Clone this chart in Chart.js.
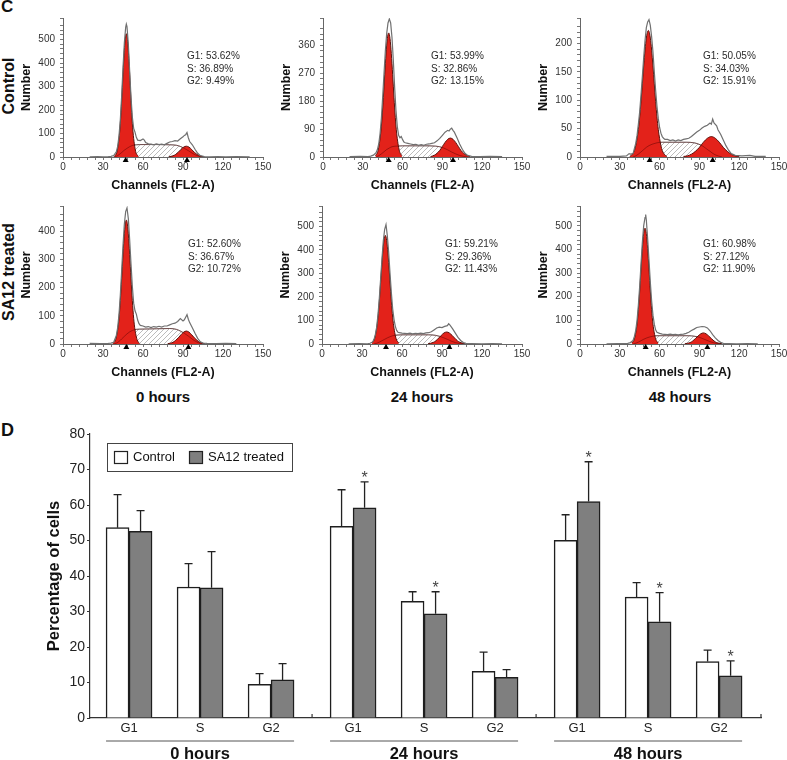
<!DOCTYPE html>
<html>
<head>
<meta charset="utf-8">
<script src="https://cdn.jsdelivr.net/npm/chart.js@4.4.1/dist/chart.umd.min.js"></script>
<style>
  body { margin: 0; width: 787px; height: 760px; position: relative; overflow: hidden; background: #fff;
         font-family: "Liberation Sans", Arial, sans-serif; color: #111; }
  canvas { position: absolute; }
  .lbl { position: absolute; font-weight: bold; white-space: nowrap; text-align: center; }
  .rot { transform: rotate(-90deg); }
</style>
</head>
<body>
<div class="lbl" style="left:1px;top:-2px;font-size:17px;line-height:17px;text-align:left">C</div>
<div class="lbl rot" style="left:-61px;top:76px;width:140px;height:20px;font-size:16px;line-height:20px">Control</div>
<div class="lbl rot" style="left:-61px;top:262px;width:140px;height:20px;font-size:16px;line-height:20px">SA12 treated</div>
<div class="lbl" style="left:103px;top:387px;width:120px;font-size:15px;line-height:20px">0 hours</div>
<div class="lbl" style="left:362px;top:387px;width:120px;font-size:15px;line-height:20px">24 hours</div>
<div class="lbl" style="left:620px;top:387px;width:120px;font-size:15px;line-height:20px">48 hours</div>
<div class="lbl" style="left:1px;top:421px;font-size:18px;line-height:18px;text-align:left">D</div>

<script>
Chart.defaults.font.family = '"Liberation Sans", Arial, sans-serif';
Chart.defaults.color = '#222';

// ---- C: DNA histograms, [channel, count] ----
const ctrl0Raw = [[20,1],[26,2],[30,1],[34,2],[36,3],[38,6],[40,22],[41,45],[42,90],[43,160],[44,260],[45,380],[46,485],[47,552],[47.5,566],[48,555],[49,480],[50,365],[51,255],[52,170],[53,122],[54,106],[55,84],[56,72],[58,70],[60,77],[61,72],[62,62],[64,56],[66,55],[68,52],[70,56],[72,53],[74,55],[76,52],[78,58],[80,64],[82,66],[84,70],[86,68],[88,78],[90,86],[91,92],[92,95],[93,104],[94,82],[95,66],[97,52],[99,33],[101,16],[103,6],[106,2],[110,1],[116,2],[122,1],[130,2],[140,1]];
const ctrl0G1 = [[38.5,3],[40.5,23],[42.5,107],[43.5,189],[44.5,296],[45.5,407],[46.5,493],[47.5,525],[48.5,493],[49.5,407],[50.5,296],[51.5,189],[52.5,107],[54.5,23],[56.5,3]];
const ctrl0G2 = [[79.5,1],[82.5,5],[84.5,11],[86.5,20],[88.5,32],[90.5,42],[92.5,46],[94.5,42],[96.5,32],[98.5,20],[100.5,11],[102.5,5],[105.5,1]];
const ctrl0S = [[38,0],[40,3],[42,10],[44,19],[46,29],[48,37],[50,44],[52,49],[55,52],[60,53],[70,53],[80,52],[85,50],[88,45],[91,37],[94,27],[97,16],[100,7],[103,2],[106,0]];
const ctrl0Marks = [47, 93];
const ctrl0Stats = ['G1: 53.62%', 'S: 36.89%', 'G2: 9.49%'];

const ctrl24Raw = [[20,1],[28,2],[34,1],[36,3],[38,6],[40,14],[41,24],[42,42],[43,75],[44,125],[45,195],[46,270],[47,342],[48,398],[49,432],[50,445],[51,432],[52,385],[53,312],[54,225],[55,150],[56,98],[57,70],[58,62],[59,66],[60,56],[61,48],[62,46],[64,44],[66,42],[68,40],[70,41],[72,38],[74,40],[76,38],[78,41],[80,42],[82,44],[84,46],[86,52],[88,60],[90,70],[92,80],[94,86],[95,84],[96,90],[97,93],[98,86],[99,80],[101,62],[103,42],[105,25],[107,12],[109,5],[112,2],[118,1],[126,2],[135,1]];
const ctrl24G1 = [[39.5,4],[41.5,21],[43.5,77],[44.5,127],[45.5,192],[46.5,265],[47.5,333],[48.5,382],[49.5,400],[50.5,382],[51.5,333],[52.5,265],[53.5,192],[54.5,127],[55.5,77],[57.5,21],[59.5,4]];
const ctrl24G2 = [[81,1],[84,6],[86,12],[88,21],[90,34],[92,47],[94,57],[96,61],[98,57],[100,47],[102,34],[104,21],[106,12],[108,6],[111,1]];
const ctrl24S = [[40,0],[42,4],[44,10],[46,17],[48,24],[50,29],[52,33],[55,35],[60,36],[70,36],[80,36],[85,35],[88,33],[91,29],[94,23],[97,16],[100,10],[103,5],[106,2],[109,0]];
const ctrl24Marks = [49.5, 98];
const ctrl24Stats = ['G1: 53.99%', 'S: 32.86%', 'G2: 13.15%'];

const ctrl48Raw = [[20,1],[30,1],[35,2],[37,6],[38,5],[40,6],[42,24],[43,38],[44,58],[45,80],[46,110],[47,142],[48,175],[49,205],[50,228],[51,238],[52,242],[53,232],[54,212],[55,185],[56,150],[57,118],[58,90],[59,68],[60,52],[61,42],[62,36],[63,33],[64,31],[66,31],[68,29],[70,30],[72,28],[74,30],[76,29],[78,31],[80,32],[82,33],[84,36],[86,40],[88,44],[90,47],[92,51],[94,54],[96,56],[98,60],[99,58],[100,67],[101,60],[103,55],[104,48],[106,40],[108,30],[110,20],[112,12],[114,6],[117,3],[122,2],[128,3],[132,1],[140,1]];
const ctrl48G1 = [[37.5,1],[39.5,5],[41.5,15],[43.5,40],[44.5,59],[45.5,84],[46.5,113],[47.5,145],[48.5,175],[49.5,200],[50.5,217],[51.5,223],[52.5,217],[53.5,200],[54.5,175],[55.5,145],[56.5,113],[57.5,84],[58.5,59],[59.5,40],[61.5,15],[63.5,5],[65.5,1]];
const ctrl48G2 = [[78,1],[81,2],[84,5],[87,10],[90,17],[93,26],[96,33],[99,36],[102,33],[105,26],[108,17],[111,10],[114,5],[117,2],[120,1]];
const ctrl48S = [[40,0],[42,2],[44,5],[46,9],[48,13],[50,17],[52,20],[55,23],[58,25],[62,26],[70,26],[80,26],[86,25],[89,23],[92,20],[95,15],[98,10],[101,5],[104,2],[107,0]];
const ctrl48Marks = [52.5, 100];
const ctrl48Stats = ['G1: 50.05%', 'S: 34.03%', 'G2: 15.91%'];

const sa0Raw = [[20,2],[28,1],[34,2],[36,3],[38,6],[40,30],[41,58],[42,105],[43,175],[44,260],[45,350],[46,425],[47,470],[48,483],[49,445],[50,370],[51,285],[52,205],[53,145],[54,118],[55,106],[56,85],[57,72],[58,66],[60,64],[62,60],[64,62],[66,58],[68,62],[70,60],[72,63],[74,60],[76,64],[78,64],[80,68],[82,72],[84,74],[86,80],[88,90],[90,82],[91,86],[92,95],[93,104],[94,88],[95,76],[97,58],[99,38],[101,20],[103,8],[105,3],[108,2],[115,1],[122,2],[130,1]];
const sa0G1 = [[37.5,2],[39.5,16],[41.5,68],[42.5,120],[43.5,192],[44.5,276],[45.5,357],[46.5,418],[47.5,440],[48.5,418],[49.5,357],[50.5,276],[51.5,192],[52.5,120],[53.5,68],[55.5,16],[57.5,2]];
const sa0G2 = [[78.5,1],[80.5,3],[82.5,6],[84.5,13],[86.5,22],[88.5,33],[90.5,42],[92.5,46],[94.5,42],[96.5,33],[98.5,22],[100.5,13],[102.5,6],[104.5,3],[106.5,1]];
const sa0S = [[38,0],[40,3],[42,9],[44,18],[46,27],[48,36],[50,43],[52,48],[55,52],[60,53],[70,54],[80,55],[85,52],[88,46],[91,38],[94,28],[97,17],[100,8],[103,2],[106,0]];
const sa0Marks = [47.5, 94];
const sa0Stats = ['G1: 52.60%', 'S: 36.67%', 'G2: 10.72%'];

const sa24Raw = [[20,1],[28,2],[34,1],[36,3],[38,8],[39,20],[40,40],[41,72],[42,125],[43,195],[44,280],[45,365],[46,440],[47,488],[48,508],[49,460],[50,390],[51,302],[52,220],[53,150],[54,105],[55,75],[56,58],[57,50],[58,48],[60,46],[62,45],[64,44],[66,46],[68,43],[70,45],[72,44],[74,46],[76,44],[78,47],[80,48],[82,52],[84,60],[86,68],[88,72],[90,70],[92,75],[94,78],[95,86],[96,80],[98,64],[100,46],[102,28],[104,15],[106,6],[108,3],[112,2],[120,1],[128,2],[135,1]];
const sa24G1 = [[37.5,5],[39.5,24],[41.5,88],[42.5,146],[43.5,222],[44.5,306],[45.5,384],[46.5,441],[47.5,462],[48.5,441],[49.5,384],[50.5,306],[51.5,222],[52.5,146],[53.5,88],[55.5,24],[57.5,5]];
const sa24G2 = [[79.5,1],[81.5,3],[83.5,7],[85.5,14],[87.5,25],[89.5,37],[91.5,47],[93.5,51],[95.5,47],[97.5,37],[99.5,25],[101.5,14],[103.5,7],[105.5,3],[107.5,1]];
const sa24S = [[39,0],[41,3],[43,8],[45,14],[47,20],[49,26],[51,31],[53,35],[56,38],[60,39],[70,39],[80,39],[85,37],[88,33],[91,27],[94,20],[97,12],[100,6],[103,2],[106,0]];
const sa24Marks = [48, 95.5];
const sa24Stats = ['G1: 59.21%', 'S: 29.36%', 'G2: 11.43%'];

const sa48Raw = [[20,1],[28,2],[34,2],[36,3],[38,6],[40,15],[41,32],[42,58],[43,100],[44,165],[45,245],[46,340],[47,430],[48,500],[49,535],[49.5,548],[50,525],[51,445],[52,355],[53,262],[54,182],[55,122],[56,84],[57,60],[58,50],[60,45],[62,42],[64,41],[66,40],[68,42],[70,40],[72,41],[74,39],[76,41],[78,42],[80,45],[82,50],[84,57],[86,63],[88,70],[90,72],[92,74],[94,73],[96,68],[98,56],[100,40],[102,26],[104,15],[106,7],[108,3],[112,2],[118,1],[126,2],[134,1]];
const sa48G1 = [[39,4],[41,22],[43,84],[44,145],[45,224],[46,316],[47,403],[48,467],[49,490],[50,467],[51,403],[52,316],[53,224],[54,145],[55,84],[57,22],[59,4]];
const sa48G2 = [[79,1],[81,3],[83,6],[85,13],[87,23],[89,34],[91,43],[93,47],[95,43],[97,34],[99,23],[101,13],[103,6],[105,3],[107,1]];
const sa48S = [[40,0],[42,3],[44,8],[46,14],[48,20],[50,25],[52,29],[55,33],[58,35],[65,35],[75,35],[82,35],[86,33],[89,30],[92,24],[95,17],[98,10],[101,5],[104,1],[107,0]];
const sa48Marks = [49.5, 96];
const sa48Stats = ['G1: 60.98%', 'S: 27.12%', 'G2: 11.90%'];

// ---- D: bar chart ----
const phases = ['G1', 'S', 'G2'];
const timepoints = ['0 hours', '24 hours', '48 hours'];
const controlPct = [53.62, 36.89, 9.49, 53.99, 32.86, 13.15, 50.05, 34.03, 15.91];
const treatedPct = [52.60, 36.67, 10.72, 59.21, 29.36, 11.43, 60.98, 27.12, 11.90];
const controlSD = [9.3, 6.6, 3.0, 10.3, 2.7, 5.4, 7.2, 4.1, 3.2];
const treatedSD = [5.8, 10.2, 4.6, 7.3, 6.2, 2.2, 11.2, 8.2, 4.2];
const treatedSig = [false, false, false, true, true, false, true, true, true];

// diagonal hatch for the S-phase area
const hatch = (() => {
  const c = document.createElement('canvas');
  c.width = 5; c.height = 5;
  const g = c.getContext('2d');
  g.strokeStyle = '#ababab';
  g.lineWidth = 0.8;
  g.beginPath();
  g.moveTo(0, 5); g.lineTo(5, 0);
  g.moveTo(-1, 1); g.lineTo(1, -1);
  g.moveTo(4, 6); g.lineTo(6, 4);
  g.stroke();
  return g.createPattern(c, 'repeat');
})();

const panels = [
  { raw: ctrl0Raw, g1: ctrl0G1, g2: ctrl0G2, s: ctrl0S, marks: ctrl0Marks, stats: ctrl0Stats, yMax: 592, minor: 20, major: 100, left: 18, top: 7, plotW: 200, plotH: 142, textDx: 124 },
  { raw: ctrl24Raw, g1: ctrl24G1, g2: ctrl24G2, s: ctrl24S, marks: ctrl24Marks, stats: ctrl24Stats, yMax: 448, minor: 18, major: 90, left: 278, top: 7, plotW: 199, plotH: 142, textDx: 108 },
  { raw: ctrl48Raw, g1: ctrl48G1, g2: ctrl48G2, s: ctrl48S, marks: ctrl48Marks, stats: ctrl48Stats, yMax: 245, minor: 10, major: 50, left: 535, top: 7, plotW: 199, plotH: 142, textDx: 123 },
  { raw: sa0Raw, g1: sa0G1, g2: sa0G2, s: sa0S, marks: sa0Marks, stats: sa0Stats, yMax: 490, minor: 20, major: 100, left: 18, top: 195, plotW: 200, plotH: 141, textDx: 125 },
  { raw: sa24Raw, g1: sa24G1, g2: sa24G2, s: sa24S, marks: sa24Marks, stats: sa24Stats, yMax: 587, minor: 20, major: 100, left: 277, top: 195, plotW: 200, plotH: 141, textDx: 123 },
  { raw: sa48Raw, g1: sa48G1, g2: sa48G2, s: sa48S, marks: sa48Marks, stats: sa48Stats, yMax: 584, minor: 20, major: 100, left: 535, top: 195, plotW: 199, plotH: 141, textDx: 123 }
];

function addCanvas(left, top, w, h) {
  const c = document.createElement('canvas');
  c.width = w; c.height = h;
  c.style.left = left + 'px';
  c.style.top = top + 'px';
  document.body.appendChild(c);
  return c;
}

const toPts = arr => arr.map(([x, y]) => ({ x, y }));

function makeHist(p) {
  const canvas = addCanvas(p.left, p.top, 45 + p.plotW + 15, 8 + p.plotH + 36);
  const extras = {
    id: 'histExtras',
    afterDraw(chart) {
      const { ctx, chartArea: a } = chart;
      const xs = chart.scales.x;
      ctx.save();
      ctx.fillStyle = '#000';
      p.marks.forEach(m => {
        const px = xs.getPixelForValue(m);
        ctx.beginPath();
        ctx.moveTo(px, a.bottom);
        ctx.lineTo(px - 3, a.bottom + 5);
        ctx.lineTo(px + 3, a.bottom + 5);
        ctx.closePath();
        ctx.fill();
      });
      ctx.fillStyle = '#2a2a2a';
      ctx.font = '10px "Liberation Sans", Arial, sans-serif';
      ctx.textAlign = 'left';
      ctx.textBaseline = 'middle';
      p.stats.forEach((t, i) => ctx.fillText(t, a.left + p.textDx, a.top + 38.5 + i * 12.3));
      ctx.restore();
    }
  };
  const axisGrid = { display: true, drawOnChartArea: false, drawTicks: true, tickLength: 3, color: '#777' };
  const axisBorder = { display: true, color: '#666', width: 1 };
  new Chart(canvas, {
    type: 'line',
    data: {
      datasets: [
        { data: toPts(p.raw), borderColor: '#707070', borderWidth: 1.2, fill: false, tension: 0 },
        { data: toPts(p.s), borderColor: 'rgba(80,0,0,0.45)', borderWidth: 1, fill: false, cubicInterpolationMode: 'monotone' },
        { data: toPts(p.g1), borderColor: '#5c120c', backgroundColor: '#e3221a', borderWidth: 1, fill: 'origin', cubicInterpolationMode: 'monotone' },
        { data: toPts(p.g2), borderColor: '#5c120c', backgroundColor: '#e3221a', borderWidth: 1, fill: 'origin', cubicInterpolationMode: 'monotone' },
        { data: toPts(p.s), borderColor: '#8a8a8a', backgroundColor: hatch, borderWidth: 1, fill: 'origin', cubicInterpolationMode: 'monotone' }
      ]
    },
    options: {
      responsive: false,
      animation: false,
      devicePixelRatio: 1,
      layout: { padding: { top: 8, right: 15, bottom: 0, left: 0 } },
      elements: { point: { radius: 0 } },
      plugins: { legend: { display: false }, tooltip: { enabled: false } },
      scales: {
        x: {
          type: 'linear', min: 0, max: 150,
          ticks: { stepSize: 6, autoSkip: false, maxRotation: 0, padding: 1, color: '#333', font: { size: 10 },
                   callback: v => (v % 30 === 0 ? String(v) : '') },
          grid: axisGrid,
          border: axisBorder,
          title: { display: true, text: 'Channels (FL2-A)', color: '#111', font: { size: 12.5, weight: 'bold' }, padding: { top: 0, bottom: 0 } },
          afterFit: s => { s.height = 36; }
        },
        y: {
          type: 'linear', min: 0, max: p.yMax,
          ticks: { stepSize: p.minor, autoSkip: false, padding: 5, color: '#333', font: { size: 10 },
                   callback: v => (v % p.major === 0 ? String(v) : '') },
          grid: axisGrid,
          border: axisBorder,
          title: { display: true, text: 'Number', color: '#111', font: { size: 12.5, weight: 'bold' }, padding: { top: 1.5, bottom: 0 } },
          afterFit: s => { s.width = 45; }
        }
      }
    },
    plugins: [extras]
  });
}

panels.forEach(makeHist);

// bar slots: three phases per time point, with a wider gap between time points
const slotX = i => 0.55 + Math.floor(i / 3) * 3.155 + (i % 3);

const barExtras = {
  id: 'barExtras',
  afterDatasetsDraw(chart) {
    const { ctx } = chart;
    const ys = chart.scales.y;
    const sets = [[controlPct, controlSD, null], [treatedPct, treatedSD, treatedSig]];
    ctx.save();
    ctx.strokeStyle = '#222';
    ctx.lineWidth = 1.3;
    sets.forEach(([vals, sd, sig], d) => {
      chart.getDatasetMeta(d).data.forEach((bar, i) => {
        const top = ys.getPixelForValue(vals[i]);
        const cap = ys.getPixelForValue(vals[i] + sd[i]);
        ctx.beginPath();
        ctx.moveTo(bar.x, top);
        ctx.lineTo(bar.x, cap);
        ctx.moveTo(bar.x - 4, cap);
        ctx.lineTo(bar.x + 4, cap);
        ctx.stroke();
        if (sig && sig[i]) {
          ctx.fillStyle = '#444';
          ctx.font = '16px "Liberation Sans", Arial, sans-serif';
          ctx.textAlign = 'center';
          ctx.textBaseline = 'alphabetic';
          ctx.fillText('*', bar.x, cap + 1);
        }
      });
    });
    ctx.restore();
  },
  afterDraw(chart) {
    const { ctx, chartArea: a } = chart;
    const xs = chart.scales.x;
    const m0 = chart.getDatasetMeta(0).data;
    const m1 = chart.getDatasetMeta(1).data;
    ctx.save();
    // small upward ticks between time points and at the end of the axis
    ctx.strokeStyle = '#333';
    ctx.lineWidth = 1.2;
    const seps = [xs.getPixelForValue((slotX(2) + slotX(3)) / 2), xs.getPixelForValue((slotX(5) + slotX(6)) / 2), a.right];
    seps.forEach(px => {
      ctx.beginPath();
      ctx.moveTo(px, a.bottom);
      ctx.lineTo(px, a.bottom - 4);
      ctx.stroke();
    });
    // time point underline and label
    ctx.strokeStyle = '#555';
    ctx.lineWidth = 1;
    ctx.fillStyle = '#111';
    ctx.font = 'bold 16.5px "Liberation Sans", Arial, sans-serif';
    ctx.textAlign = 'center';
    ctx.textBaseline = 'middle';
    timepoints.forEach((t, g) => {
      const first = m0[g * 3], last = m1[g * 3 + 2];
      const x0 = first.x - first.width / 2, x1 = last.x + last.width / 2;
      ctx.beginPath();
      ctx.moveTo(x0, a.bottom + 23);
      ctx.lineTo(x1, a.bottom + 23);
      ctx.stroke();
      ctx.fillText(t, (x0 + x1) / 2, a.bottom + 36);
    });
    // legend box
    const lx = a.left + 17, ly = a.top + 9;
    ctx.strokeStyle = '#444';
    ctx.lineWidth = 1;
    ctx.strokeRect(lx + 0.5, ly + 0.5, 185, 28);
    ctx.font = '13px "Liberation Sans", Arial, sans-serif';
    ctx.textAlign = 'left';
    ctx.textBaseline = 'middle';
    const items = [[7, 26], [82, 101]];
    chart.data.datasets.forEach((ds, d) => {
      const [bx, tx] = items[d];
      ctx.fillStyle = ds.backgroundColor;
      ctx.fillRect(lx + bx, ly + 8, 13, 12);
      ctx.strokeStyle = '#222';
      ctx.lineWidth = 1.2;
      ctx.strokeRect(lx + bx + 0.5, ly + 8.5, 13, 12);
      ctx.fillStyle = '#111';
      ctx.fillText(ds.label, lx + tx, ly + 14.5);
    });
    ctx.restore();
  }
};

const barCanvas = addCanvas(30, 420, 751, 340);
new Chart(barCanvas, {
  type: 'bar',
  data: {
    datasets: [
      { label: 'Control', data: controlPct.map((v, i) => ({ x: slotX(i), y: v })),
        backgroundColor: '#ffffff', borderColor: '#1e1e1e', borderWidth: 1.5, barThickness: 23 },
      { label: 'SA12 treated', data: treatedPct.map((v, i) => ({ x: slotX(i), y: v })),
        backgroundColor: '#7f7f7f', borderColor: '#1e1e1e', borderWidth: 1.5, barThickness: 23 }
    ]
  },
  options: {
    responsive: false,
    animation: false,
    devicePixelRatio: 1,
    layout: { padding: { top: 14, right: 20, bottom: 0, left: 0 } },
    plugins: { legend: { display: false }, tooltip: { enabled: false } },
    scales: {
      x: {
        type: 'linear', min: 0, max: 9.45, offset: false,
        grid: { display: false, drawTicks: false, offset: false },
        border: { display: true, color: '#333', width: 1.2 },
        ticks: { padding: 3, color: '#222', font: { size: 13 }, autoSkip: false, maxRotation: 0,
                 callback: (v, i) => phases[i % 3] },
        afterBuildTicks: s => { s.ticks = controlPct.map((_, i) => ({ value: slotX(i) })); },
        afterFit: s => { s.height = 42; }
      },
      y: {
        min: 0, max: 80,
        ticks: { stepSize: 10, padding: 2, color: '#222', font: { size: 14 } },
        grid: { display: true, drawOnChartArea: false, tickLength: 3, color: '#333' },
        border: { display: true, color: '#333', width: 1.2 },
        title: { display: true, text: 'Percentage of cells', color: '#111', font: { size: 16.5, weight: 'bold' }, padding: { top: 15, bottom: 0 } },
        afterFit: s => { s.width = 60; }
      }
    }
  },
  plugins: [barExtras]
});
</script>
</body>
</html>
